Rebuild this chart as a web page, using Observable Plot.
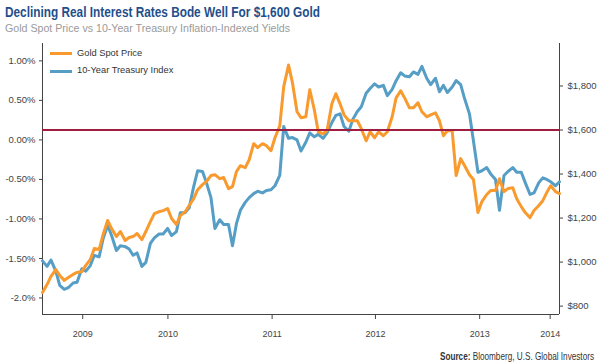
<!DOCTYPE html>
<html>
<head>
<meta charset="utf-8">
<script src="https://cdn.jsdelivr.net/npm/d3@7"></script>
<script src="https://cdn.jsdelivr.net/npm/@observablehq/plot@0.6"></script>
<style>
  body { margin: 0; background: #fff; }
  #wrap { position: relative; width: 600px; height: 364px; overflow: hidden; font-family: "Liberation Sans", Arial, sans-serif; }
  .fit { position: absolute; white-space: nowrap; transform-origin: 0 0; line-height: 1; }
  #title { left: 5px; top: 5px; font-size: 14px; font-weight: bold; color: #1f4f8b; font-family: "Liberation Sans Narrow", "Liberation Sans", sans-serif; }
  #subtitle { left: 5px; top: 23px; font-size: 11px; color: #9a9a9a; font-family: "Liberation Sans Narrow", "Liberation Sans", sans-serif; }
  #source { top: 351px; font-size: 10.5px; color: #333; font-family: "Liberation Sans Narrow", "Liberation Sans", sans-serif; }
  #chart { position: absolute; left: 0; top: 40px; }
  .sw { position: absolute; left: 50px; width: 22px; height: 3px; }
  .lg { position: absolute; left: 77px; font-size: 9.3px; line-height: 1; color: #333; white-space: nowrap; }
</style>
</head>
<body>
<div id="wrap">
  <div id="title" class="fit">Declining Real Interest Rates Bode Well For $1,600 Gold</div>
  <div id="subtitle" class="fit">Gold Spot Price vs 10-Year Treasury Inflation-Indexed Yields</div>
  <div id="chart"></div>
  <div class="sw" style="top:52px;background:#f89a2e"></div>
  <div class="lg" style="top:48.8px">Gold Spot Price</div>
  <div class="sw" style="top:69.5px;background:#569ec5"></div>
  <div class="lg" style="top:66.4px">10-Year Treasury Index</div>
  <div id="source" class="fit"><b>Source:</b> Bloomberg, U.S. Global Investors</div>
</div>
<script>
const dates = [
"2009-04-15",
"2009-05-01","2009-05-15","2009-06-01","2009-06-15","2009-07-01","2009-07-15","2009-08-01","2009-08-15",
"2009-09-01","2009-09-15","2009-10-01","2009-10-15","2009-11-01","2009-11-15","2009-12-01","2009-12-15",
"2010-01-01","2010-01-15","2010-02-01","2010-02-15","2010-03-01","2010-03-15","2010-04-01","2010-04-15",
"2010-05-01","2010-05-15","2010-06-01","2010-06-15","2010-07-01","2010-07-15","2010-08-01","2010-08-15",
"2010-09-01","2010-09-15","2010-10-01","2010-10-15","2010-11-01","2010-11-15","2010-12-01","2010-12-15",
"2011-01-01","2011-01-15","2011-02-01","2011-02-15","2011-03-01","2011-03-15","2011-04-01","2011-04-15",
"2011-05-01","2011-05-15","2011-06-01","2011-06-15","2011-07-01","2011-07-15","2011-08-01","2011-08-15",
"2011-09-01","2011-09-15","2011-10-01","2011-10-15","2011-11-01","2011-11-15","2011-12-01","2011-12-15",
"2012-01-01","2012-01-15","2012-02-01","2012-02-15","2012-03-01","2012-03-15","2012-04-01","2012-04-15",
"2012-05-01","2012-05-15","2012-06-01","2012-06-15","2012-07-01","2012-07-15","2012-08-01","2012-08-15",
"2012-09-01","2012-09-15","2012-10-01","2012-10-15","2012-11-01","2012-11-15","2012-12-01","2012-12-15",
"2013-01-01","2013-01-15","2013-02-01","2013-02-15","2013-03-01","2013-03-15","2013-04-01","2013-04-15",
"2013-05-01","2013-05-15","2013-06-01","2013-06-15","2013-07-01","2013-07-15","2013-08-01","2013-08-15",
"2013-09-01","2013-09-15","2013-10-01","2013-10-15","2013-11-01","2013-11-15","2013-12-01","2013-12-15",
"2014-01-01","2014-01-15","2014-02-01","2014-02-15","2014-03-01","2014-03-15","2014-04-01","2014-04-15"
];

// 10-Year Treasury Index (left axis, %)
const tipsYield = [
 -1.53,-1.60,-1.52,-1.66,-1.84,-1.89,-1.87,-1.81,-1.80,-1.63,
 -1.66,-1.59,-1.46,-1.48,-1.25,-1.08,-1.21,-1.40,-1.34,-1.35,
 -1.38,-1.46,-1.43,-1.60,-1.55,-1.31,-1.24,-1.19,-1.19,-1.12,
 -1.21,-1.16,-0.92,-0.92,-0.86,-0.59,-0.39,-0.40,-0.54,-0.73,
 -1.12,-1.01,-1.07,-1.07,-1.34,-1.06,-0.89,-0.79,-0.73,-0.68,
 -0.65,-0.67,-0.64,-0.63,-0.58,-0.45,0.17,0.02,0.03,0.00,
 -0.14,-0.03,0.09,0.04,0.07,0.02,0.09,0.22,0.31,0.33,
 0.17,0.11,0.26,0.36,0.42,0.59,0.65,0.71,0.67,0.69,
 0.56,0.64,0.75,0.85,0.81,0.80,0.86,0.83,0.93,0.78,
 0.70,0.78,0.61,0.69,0.60,0.67,0.75,0.70,0.52,0.33,
 -0.01,-0.41,-0.39,-0.35,-0.43,-0.50,-0.89,-0.45,-0.40,-0.35,
 -0.41,-0.41,-0.54,-0.69,-0.67,-0.54,-0.48,-0.50,-0.53,-0.58,
 -0.53
];

// Gold Spot Price (right axis, $)
const goldPrice = [
 862,898,935,966,939,917,930,944,953,957,
 985,1012,1062,1057,1125,1189,1152,1116,1139,1098,
 1112,1116,1130,1102,1139,1184,1220,1229,1234,1243,
 1198,1171,1211,1229,1257,1288,1329,1352,1366,1393,
 1397,1379,1384,1334,1343,1411,1438,1429,1465,1538,
 1520,1538,1529,1506,1565,1619,1797,1895,1814,1683,
 1656,1660,1783,1692,1592,1583,1597,1719,1765,1719,
 1669,1642,1642,1642,1606,1551,1592,1565,1592,1574,
 1592,1660,1746,1778,1746,1701,1701,1724,1683,1660,
 1669,1678,1642,1574,1597,1597,1393,1470,1438,1397,
 1375,1225,1275,1307,1325,1325,1379,1320,1334,1338,
 1288,1252,1225,1202,1234,1257,1279,1316,1347,1320,
 1311
];

const pctTicks = [1, 0.5, 0, -0.5, -1, -1.5, -2];
const pctLabels = ["1.00%", "0.50%", "0.00%", "-0.50%", "-1.00%", "-1.50%", "-2.0%"];
const goldTicks = [800, 1000, 1200, 1400, 1600, 1800];
const goldLabels = ["$800", "$1,000", "$1,200", "$1,400", "$1,600", "$1,800"];
const xTickDates = ["2009-09-04", "2010-07-02", "2011-07-05", "2012-07-04", "2013-07-07", "2014-03-13"];
const xTickLabels = ["2009", "2010", "2011", "2012", "2013", "2014"];
const targetGold = 1600;

const pctDomain = [-2.209, 1.220];
const goldDomain = [762, 1993];
const goldToPct = d3.scaleLinear().domain(goldDomain).range(pctDomain);

const rows = dates.map((d, i) => ({ date: new Date(d), tips: tipsYield[i], gold: goldPrice[i] }));
const xDomain = [new Date(dates[0]), new Date(dates[dates.length - 1])];
const xTicks = xTickDates.map(d => new Date(d));
const goldTickPct = goldTicks.map(g => goldToPct(g));

const axisColor = "#444";

const chart = Plot.plot({
  width: 600,
  height: 304,
  marginTop: 3,
  marginLeft: 42,
  marginRight: 41,
  marginBottom: 30,
  style: { fontFamily: "'Liberation Sans', Arial, sans-serif", fontSize: "9.5px", color: "#444", background: "transparent" },
  x: { type: "utc", domain: xDomain },
  y: { domain: pctDomain },
  marks: [
    Plot.axisY(pctTicks, { anchor: "left", tickSize: 3, tickPadding: 4, stroke: axisColor,
      tickFormat: d => pctLabels[pctTicks.indexOf(d)], fontSize: 9.5, label: null }),
    Plot.axisY(goldTickPct, { anchor: "right", tickSize: 3, tickPadding: 5, stroke: axisColor,
      tickFormat: d => goldLabels[goldTickPct.indexOf(d)], fontSize: 9.5, label: null }),
    Plot.axisX(xTicks, { tickSize: 5, tickPadding: 11, stroke: axisColor,
      tickFormat: d => xTickLabels[xTicks.findIndex(t => +t === +d)], fontSize: 9, label: null }),
    Plot.ruleX([xDomain[0]], { stroke: axisColor, strokeWidth: 1 }),
    Plot.ruleX([xDomain[1]], { stroke: axisColor, strokeWidth: 1 }),
    Plot.ruleY([pctDomain[0]], { stroke: axisColor, strokeWidth: 1 }),
    Plot.lineY(rows, { x: "date", y: "tips", stroke: "#569ec5", strokeWidth: 3 }),
    Plot.lineY(rows, { x: "date", y: d => goldToPct(d.gold), stroke: "#f89a2e", strokeWidth: 3 }),
    Plot.ruleY([targetGold], { y: d => goldToPct(d), stroke: "#a01c40", strokeWidth: 2 })
  ]
});
document.getElementById("chart").appendChild(chart);

function fit(id, width, right) {
  const el = document.getElementById(id);
  const w = el.getBoundingClientRect().width;
  el.style.transform = `scaleX(${width / w})`;
  if (right !== undefined) el.style.left = (right - width) + "px";
}
fit("title", 315);
fit("subtitle", 285);
fit("source", 154, 594);
</script>
</body>
</html>
